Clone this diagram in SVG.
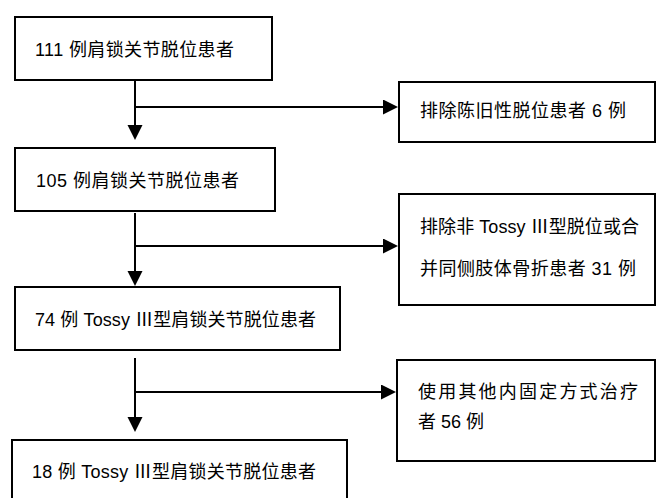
<svg xmlns="http://www.w3.org/2000/svg" width="656" height="498" viewBox="0 0 656 498">
<defs>
<style>
.box{fill:#fff;stroke:#000;stroke-width:2}
.ln{fill:none;stroke:#000;stroke-width:2}
text{font-family:"Liberation Sans","Noto Sans CJK SC",sans-serif;font-size:18px;fill:#000}
</style>
<marker id="ah" markerUnits="userSpaceOnUse" markerWidth="16" markerHeight="16" viewBox="0 0 16 16" refX="1" refY="7.5" orient="auto">
<path d="M0,0 L15,7.5 L0,15 Z" fill="#000"/>
</marker>
</defs>
<rect width="656" height="498" fill="#fff"/>
<g id="connectors">
<path class="ln" d="M135,80 V126" marker-end="url(#ah)"/>
<path class="ln" d="M135,107 H384" marker-end="url(#ah)"/>
<path class="ln" d="M135,213 V272" marker-end="url(#ah)"/>
<path class="ln" d="M135,246 H384" marker-end="url(#ah)"/>
<path class="ln" d="M135,358 V418" marker-end="url(#ah)"/>
<path class="ln" d="M135,392 H382" marker-end="url(#ah)"/>
</g>
<g id="n1"><rect class="box" x="15" y="17" width="257" height="63"/><text x="35" y="56" textLength="199" lengthAdjust="spacing">111 例肩锁关节脱位患者</text></g>
<g id="n2"><rect class="box" x="399" y="82" width="256" height="60"/><text x="420" y="117" textLength="206" lengthAdjust="spacing">排除陈旧性脱位患者 6 例</text></g>
<g id="n3"><rect class="box" x="15" y="148" width="260" height="63"/><text x="36" y="187" textLength="203" lengthAdjust="spacing">105 例肩锁关节脱位患者</text></g>
<g id="n4"><rect class="box" x="399" y="194" width="256" height="111"/><text x="420" y="233" textLength="219" lengthAdjust="spacing">排除非 Tossy Ⅲ型脱位或合</text><text x="420" y="275" textLength="216" lengthAdjust="spacing">并同侧肢体骨折患者 31 例</text></g>
<g id="n5"><rect class="box" x="15" y="287" width="325" height="63"/><text x="35" y="326" textLength="281" lengthAdjust="spacing">74 例 Tossy Ⅲ型肩锁关节脱位患者</text></g>
<g id="n6"><rect class="box" x="12" y="440" width="335" height="70"/><text x="32" y="478" textLength="284" lengthAdjust="spacing">18 例 Tossy Ⅲ型肩锁关节脱位患者</text></g>
<g id="n7"><rect class="box" x="397" y="360" width="258" height="101"/><text x="418" y="398" textLength="220" lengthAdjust="spacing">使用其他内固定方式治疗</text><text x="418" y="428" textLength="66" lengthAdjust="spacing">者 56 例</text></g>
</svg>
